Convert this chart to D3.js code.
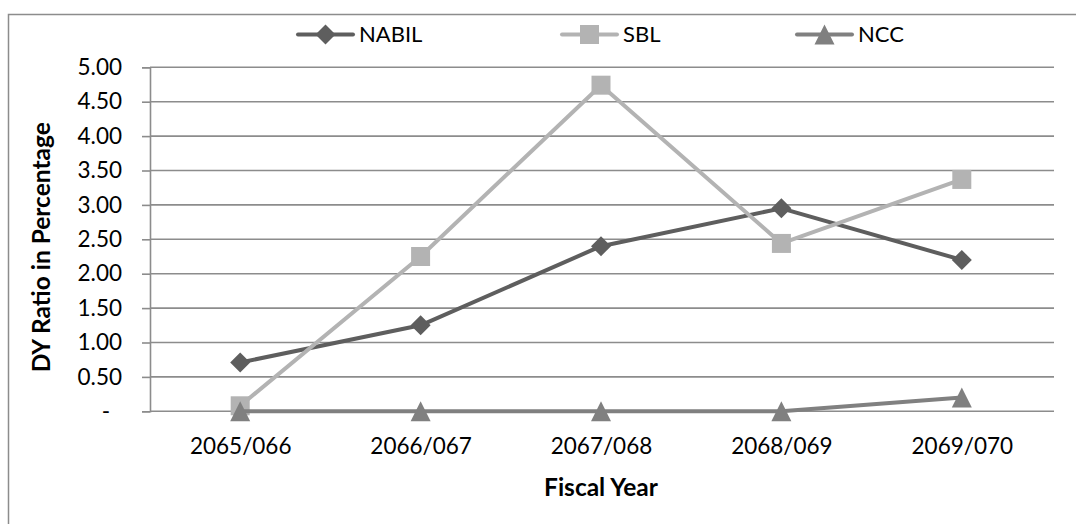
<!DOCTYPE html>
<html>
<head>
<meta charset="utf-8">
<script src="https://cdn.jsdelivr.net/npm/d3@7/dist/d3.min.js"></script>
<style>
  html, body { margin: 0; padding: 0; background: #fff; }
  svg { display: block; }
  text { font-family: Lato, "Open Sans", sans-serif; fill: #000; }
</style>
</head>
<body>
<svg id="chart" width="1076" height="524"></svg>
<script>
// Dividend yield (DY) ratio by fiscal year
const fiscalYears = ["2065/066", "2066/067", "2067/068", "2068/069", "2069/070"];
const nabil = [0.71, 1.25, 2.40, 2.95, 2.20];
const sbl   = [0.08, 2.25, 4.74, 2.44, 3.37];
const ncc   = [0.00, 0.00, 0.00, 0.00, 0.20];
const yTicks = [0, 0.5, 1, 1.5, 2, 2.5, 3, 3.5, 4, 4.5, 5];

const series = [
  { name: "NABIL", values: nabil, color: "#5e5e5e", marker: "diamond" },
  { name: "SBL",   values: sbl,   color: "#b3b3b3", marker: "square" },
  { name: "NCC",   values: ncc,   color: "#808080", marker: "triangle" }
];

const W = 1076, H = 524;
const plot = { left: 150, right: 1052, top: 67.3, bottom: 411.3 };
const gridColor = "#8c8c8c";

const svg = d3.select("#chart");

// chart area frame (runs past the right and bottom edges)
svg.append("rect")
  .attr("x", 8.5).attr("y", 14.5)
  .attr("width", W + 20).attr("height", H + 20)
  .attr("fill", "#fff")
  .attr("stroke", gridColor).attr("stroke-width", 1.5);

const x = d3.scalePoint().domain(fiscalYears).range([plot.left, plot.right]).padding(0.5);
const y = d3.scaleLinear().domain([0, 5]).range([plot.bottom, plot.top]);

// horizontal gridlines
svg.append("g")
  .selectAll("line")
  .data(yTicks)
  .join("line")
  .attr("x1", plot.left).attr("x2", plot.right + 2)
  .attr("y1", d => y(d)).attr("y2", d => y(d))
  .attr("stroke", gridColor).attr("stroke-width", 1.6);

// y axis
const yAxis = svg.append("g")
  .attr("transform", `translate(${plot.left},0)`)
  .call(d3.axisLeft(y)
    .tickValues(yTicks)
    .tickSize(8)
    .tickPadding(20)
    .tickFormat(d => d === 0 ? "-" : d.toFixed(2)));
yAxis.select(".domain").attr("stroke", gridColor).attr("stroke-width", 1.6);
yAxis.selectAll(".tick line").attr("stroke", gridColor).attr("stroke-width", 1.6);
yAxis.selectAll(".tick text")
  .style("font-family", "Lato, 'Open Sans', sans-serif")
  .style("font-size", "22.5px")
  .attr("fill", "#000")
  .attr("dx", d => d === 0 ? -12 : 0);

// x axis labels
const xAxis = svg.append("g")
  .attr("transform", `translate(0,${plot.bottom})`)
  .call(d3.axisBottom(x).tickSize(0).tickPadding(27));
xAxis.select(".domain").remove();
xAxis.selectAll(".tick text")
  .style("font-family", "Lato, 'Open Sans', sans-serif")
  .style("font-size", "22.5px")
  .attr("fill", "#000");

// axis titles
svg.append("text")
  .attr("transform", `translate(50,${(plot.top + plot.bottom) / 2 + 8}) rotate(-90)`)
  .attr("text-anchor", "middle")
  .style("font-size", "24.5px").style("font-weight", "bold")
  .text("DY Ratio in Percentage");

svg.append("text")
  .attr("x", (plot.left + plot.right) / 2)
  .attr("y", 496)
  .attr("text-anchor", "middle")
  .style("font-size", "24.5px").style("font-weight", "bold")
  .text("Fiscal Year");

// marker shapes
function markerPath(type) {
  const s = 10;
  if (type === "diamond") return `M0,${-s}L${s},0L0,${s}L${-s},0Z`;
  if (type === "square") return `M${-9.5},${-9.5}h19v19h-19Z`;
  return `M0,${-s}L${s},${s}L${-s},${s}Z`;
}

const line = d3.line()
  .x((d, i) => x(fiscalYears[i]))
  .y(d => y(d));

// series lines and markers
series.forEach(s => {
  const g = svg.append("g");
  g.append("path")
    .attr("d", line(s.values))
    .attr("fill", "none")
    .attr("stroke", s.color)
    .attr("stroke-width", 4)
    .attr("stroke-linejoin", "round")
    .attr("stroke-linecap", "round");
  g.selectAll("path.mk")
    .data(s.values)
    .join("path")
    .attr("class", "mk")
    .attr("d", markerPath(s.marker))
    .attr("transform", (d, i) => `translate(${x(fiscalYears[i])},${y(d)})`)
    .attr("fill", s.color);
});

// legend
const legendY = 34.5;
const legendItems = [
  { s: series[0], x0: 298 },
  { s: series[1], x0: 562 },
  { s: series[2], x0: 797 }
];
legendItems.forEach(({ s, x0 }) => {
  const g = svg.append("g").attr("transform", `translate(${x0},${legendY})`);
  g.append("line")
    .attr("x1", 0).attr("x2", 55)
    .attr("stroke", s.color).attr("stroke-width", 4)
    .attr("stroke-linecap", "round");
  g.append("path")
    .attr("d", markerPath(s.marker))
    .attr("transform", "translate(27.5,0)")
    .attr("fill", s.color);
  g.append("text")
    .attr("x", 61).attr("y", 0)
    .attr("dy", "0.36em")
    .style("font-size", "22px")
    .text(s.name);
});
</script>
</body>
</html>
